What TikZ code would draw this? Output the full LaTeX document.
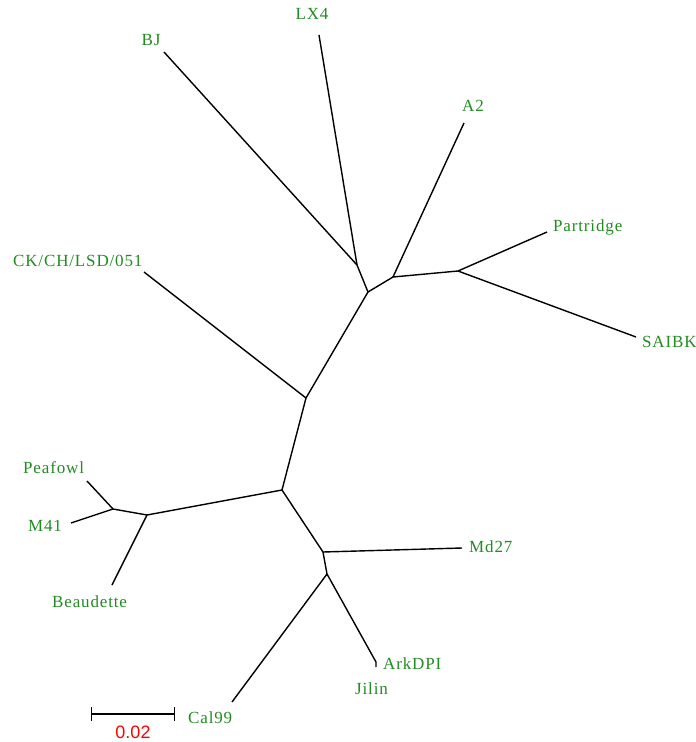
\documentclass[tikz,border=0pt]{standalone}
\usepackage{fontspec}
\setmainfont[LetterSpace=5]{Liberation Serif}
\newfontfamily\barfont{Liberation Sans}
\usetikzlibrary{arrows.meta}
\definecolor{leafgreen}{RGB}{34,139,34}
\definecolor{barred}{RGB}{255,0,0}

\begin{document}
\begin{tikzpicture}[x=1pt, y=-1pt, every node/.style={inner sep=0pt},
    taxon/.style={text=leafgreen, font=\fontsize{17}{17}\selectfont},
    branch/.style={line width=1.4pt, line join=round}]

        \useasboundingbox (0,0) rectangle (696,742);

        % Inner nodes of the tree
        \coordinate (n1) at (357,265);
        \coordinate (n2) at (368,292);
        \coordinate (n3) at (393,277);
        \coordinate (n4) at (458,271);
        \coordinate (n5) at (306,398);
        \coordinate (n6) at (282,490);
        \coordinate (n7) at (147,515);
        \coordinate (n8) at (113,509);
        \coordinate (n9) at (323,552);
        \coordinate (n10) at (327,574);

        % Tips of the branches
        \coordinate (tBJ) at (164,52);
        \coordinate (tLX) at (319,35);
        \coordinate (tAtwo) at (464,123);
        \coordinate (tPartridge) at (547,232);
        \coordinate (tSAIBK) at (636,337);
        \coordinate (tCK) at (144,272);
        \coordinate (tPeafowl) at (87,481);
        \coordinate (tMfortyone) at (71,523);
        \coordinate (tBeaudette) at (112,585);
        \coordinate (tMd) at (462,548);
        \coordinate (tCal) at (232,702);
        \coordinate (tArk) at (376,662);
        \coordinate (tJilin) at (376,667);

        % Labels of the taxa
        \node[taxon, anchor=base] (BJ) at (151,45) {BJ};
        \node[taxon, anchor=base] (LX4) at (312,19) {LX4};
        \node[taxon, anchor=base] (A2) at (473,111) {A2};
        \node[taxon, anchor=base west] (Partridge) at (553,231) {Partridge};
        \node[taxon, anchor=base west] (SAIBK) at (642,347) {SAIBK};
        \node[taxon, anchor=base west] (CK) at (13,266) {CK/CH/LSD/051};
        \node[taxon, anchor=base west] (Peafowl) at (23,473) {Peafowl};
        \node[taxon, anchor=base west] (M41) at (28,531) {M41};
        \node[taxon, anchor=base west] (Beaudette) at (52,607) {Beaudette};
        \node[taxon, anchor=base west] (Md27) at (469,552) {Md27};
        \node[taxon, anchor=base west] (ArkDPI) at (383,669) {ArkDPI};
        \node[taxon, anchor=base west] (Jilin) at (355,694) {Jilin};
        \node[taxon, anchor=base west] (Cal99) at (188,723) {Cal99};

        % Draw the branches
        \draw[branch] (n2) -- (n1);
        \draw[branch] (n2) -- (n3);
        \draw[branch] (n2) -- (n5);
        \draw[branch] (n1) -- (tBJ);
        \draw[branch] (n1) -- (tLX);
        \draw[branch] (n3) -- (tAtwo);
        \draw[branch] (n3) -- (n4);
        \draw[branch] (n4) -- (tPartridge);
        \draw[branch] (n4) -- (tSAIBK);
        \draw[branch] (n5) -- (tCK);
        \draw[branch] (n5) -- (n6);
        \draw[branch] (n6) -- (n7);
        \draw[branch] (n6) -- (n9);
        \draw[branch] (n7) -- (n8);
        \draw[branch] (n7) -- (tBeaudette);
        \draw[branch] (n8) -- (tPeafowl);
        \draw[branch] (n8) -- (tMfortyone);
        \draw[branch] (n9) -- (tMd);
        \draw[branch] (n9) -- (n10);
        \draw[branch] (n10) -- (tCal);
        \draw[branch] (n10) -- (tArk) -- (tJilin);

        % Scale bar
        \coordinate (barL) at (91,714);
        \coordinate (barR) at (175,714);
        \draw[line width=1.4pt, {Bar[width=14pt]}-{Bar[width=14pt]}] (barL) -- (barR);
        \node[anchor=base, text=barred, font=\barfont\fontsize{18}{18}\selectfont] (scale) at (133,738) {0.02};

    \end{tikzpicture}
\end{document}
